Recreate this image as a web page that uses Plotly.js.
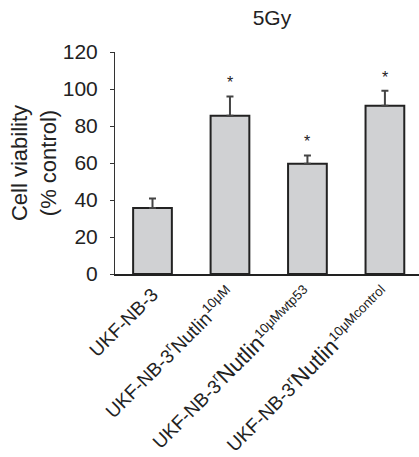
<!DOCTYPE html>
<html>
<head>
<meta charset="utf-8">
<script src="https://cdn.plot.ly/plotly-3.0.1.min.js"></script>
<style>html,body{margin:0;padding:0;background:#fff;}#chart{width:419px;height:457px;}</style>
</head>
<body>
<div id="chart"></div>
<script>
const categories = [
  "UKF-NB-3",
  "UKF-NB-3<sup>r</sup>Nutlin<sup>10μM</sup>",
  "UKF-NB-3<sup>r</sup><span style=\"font-size:22px\">Nutlin</span><sup>10μMwtp53</sup>",
  "UKF-NB-3<sup>r</sup><span style=\"font-size:22px\">Nutlin</span><sup>10μMcontrol</sup>"
];
const viability = [35.7, 85.6, 59.6, 91.0];
const errorUp = [5.1, 10.4, 4.5, 8.1];
const significant = [false, true, true, true];
const yTicks = [0, 20, 40, 60, 80, 100, 120];

const FONT = "Liberation Sans, Arial, Helvetica, sans-serif";
const xIdx = categories.map((c, i) => i);

const trace = {
  type: "bar",
  x: xIdx,
  y: viability,
  width: 0.5,
  marker: {color: "#d0d1d3", line: {color: "#222", width: 2}},
  error_y: {
    type: "data",
    symmetric: false,
    array: errorUp,
    arrayminus: viability.map(() => 0),
    color: "#444",
    thickness: 2,
    width: 3.5
  },
  hoverinfo: "skip"
};

const annotations = [];
viability.forEach((v, i) => {
  if (significant[i]) {
    annotations.push({
      x: i, y: v + errorUp[i], xref: "x", yref: "y",
      text: "*", showarrow: false, yanchor: "bottom", yshift: 3,
      font: {family: FONT, size: 16, color: "#222"}
    });
  }
});

const layout = {
  width: 419, height: 457,
  margin: {l: 115, r: 0, t: 52, b: 183},
  paper_bgcolor: "#fff", plot_bgcolor: "#fff",
  showlegend: false,
  title: {
    text: "5Gy", x: 0.649, xref: "container", xanchor: "center",
    y: 0.962, yref: "container", yanchor: "middle",
    font: {family: FONT, size: 21, color: "#222"}
  },
  xaxis: {
    tickmode: "array", tickvals: xIdx, ticktext: categories,
    tickangle: -45, range: [-0.484, 3.44],
    showline: true, linecolor: "#222", linewidth: 2,
    ticks: "", showgrid: false, zeroline: false,
    tickfont: {family: FONT, size: 19, color: "#222"}
  },
  yaxis: {
    range: [0, 120], tickmode: "array", tickvals: yTicks,
    showline: true, linecolor: "#333", linewidth: 1,
    ticks: "outside", ticklen: 4, tickwidth: 1, tickcolor: "#333",
    ticklabelstandoff: 8,
    showgrid: false, zeroline: false,
    tickfont: {family: FONT, size: 21, color: "#222"},
    title: {text: "Cell viability<br>(% control)", standoff: 0,
            font: {family: FONT, size: 22, color: "#222"}}
  },
  annotations: annotations
};

Plotly.newPlot("chart", [trace], layout, {displayModeBar: false, staticPlot: true});
</script>
</body>
</html>
